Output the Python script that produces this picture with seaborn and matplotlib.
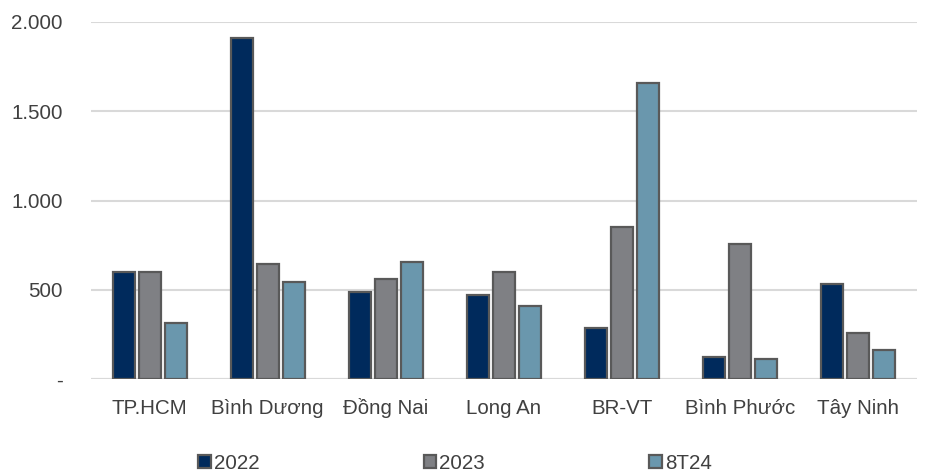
import matplotlib
matplotlib.use("Agg")
import matplotlib.pyplot as plt
from matplotlib.patches import Patch
from matplotlib.ticker import FuncFormatter
import seaborn as sns
import pandas as pd

provinces = ["TP.HCM", "Bình Dương", "Đồng Nai", "Long An", "BR-VT", "Bình Phước", "Tây Ninh"]
series_names = ["2022", "2023", "8T24"]
values_2022 = [600, 1910, 487, 470, 288, 121, 535]
values_2023 = [600, 644, 560, 600, 853, 754, 256]
values_8t24 = [314, 543, 655, 409, 1656, 112, 162]
colors = ["#002a5c", "#7f8084", "#6a97ad"]

df = pd.DataFrame({
    "province": provinces * 3,
    "series": [s for s in series_names for _ in provinces],
    "value": values_2022 + values_2023 + values_8t24,
})

sns.set_theme(style="white")
plt.rcParams["font.family"] = ["Liberation Sans", "DejaVu Sans"]
text_color = "#404040"
fs = 14.8

fig = plt.figure(figsize=(9.25, 4.74), dpi=100)
ax = fig.add_axes([0.098, 0.2004, 0.893, 0.7532])

sns.barplot(
    data=df, x="province", y="value", hue="series",
    hue_order=series_names, order=provinces, palette=colors, saturation=1,
    width=0.66, gap=0.15, edgecolor="#595959", linewidth=1.6,
    errorbar=None, legend=False, ax=ax, zorder=3,
)

ax.set_ylim(0, 2000)
ax.set_yticks([0, 500, 1000, 1500, 2000])
ax.yaxis.set_major_formatter(FuncFormatter(
    lambda v, _: "-" if v == 0 else f"{int(v):,}".replace(",", ".")))
ax.grid(axis="y", color="#d9d9d9", linewidth=1.5, zorder=0)
ax.grid(axis="x", visible=False)
for s in ax.spines.values():
    s.set_visible(False)
ax.axhline(0, color="#d9d9d9", linewidth=1.5, zorder=1)

ax.set_xlabel("")
ax.set_ylabel("")
ax.tick_params(axis="y", length=0, pad=20, labelsize=fs, labelcolor=text_color)
ax.tick_params(axis="x", length=0, pad=25, labelsize=fs, labelcolor=text_color)
# keep all category names on a common baseline despite diacritics
for lbl in ax.get_xticklabels():
    lbl.set_verticalalignment("baseline")
ax.set_xlim(-0.5, len(provinces) - 0.5)

handles = [Patch(facecolor=c, edgecolor="#595959", linewidth=1.6) for c in colors]
fig.legend(
    handles, series_names, loc="center", bbox_to_anchor=(0.492, 0.022),
    ncol=3, frameon=False, fontsize=fs, labelcolor=text_color,
    handlelength=0.6, handleheight=0.6, handletextpad=0.15, columnspacing=8.0,
)

fig.savefig("out.png", dpi=100, facecolor="white")
